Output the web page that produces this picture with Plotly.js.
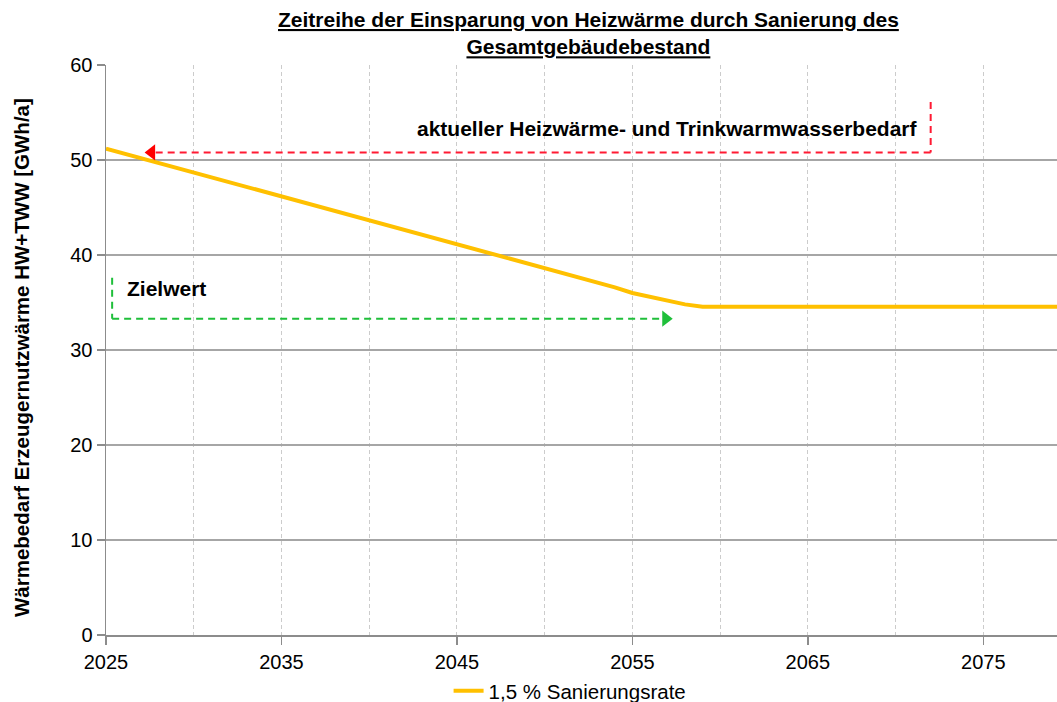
<!DOCTYPE html>
<html><head><meta charset="utf-8">
<script src="https://cdn.plot.ly/plotly-3.0.1.min.js"></script>
<style>body{margin:0;background:#fff}#c{width:1057px;height:702px}</style>
</head><body><div id="c"></div>
<script>
const years = [2025,2026,2027,2028,2029,2030,2031,2032,2033,2034,2035,2036,2037,2038,2039,2040,2041,2042,2043,2044,2045,2046,2047,2048,2049,2050,2051,2052,2053,2054,2055,2056,2057,2058,2059,2060,2061,2062,2063,2064,2065,2066,2067,2068,2069,2070,2071,2072,2073,2074,2075,2076,2077,2078,2079,2080];
const demand = [51.2,50.7,50.2,49.7,49.2,48.6,48.1,47.6,47.1,46.6,46.1,45.6,45.1,44.6,44.1,43.6,43.1,42.6,42.1,41.6,41.1,40.6,40.1,39.6,39.1,38.6,38.1,37.6,37.1,36.6,36.0,35.6,35.2,34.8,34.55,34.55,34.55,34.55,34.55,34.55,34.55,34.55,34.55,34.55,34.55,34.55,34.55,34.55,34.55,34.55,34.55,34.55,34.55,34.55,34.55,34.55];
const seriesName = '1,5 % Sanierungsrate';
const titleLines = ['Zeitreihe der Einsparung von Heizwärme durch Sanierung des','Gesamtgebäudebestand'];
const yTitle = 'Wärmebedarf Erzeugernutzwärme HW+TWW [GWh/a]';
// annotation: current demand (red) and target (green)
const currentLabel = 'aktueller Heizwärme- und Trinkwarmwasserbedarf';
const currentX = [2072.0, 2072.0, 2027.6];
const currentY = [56.1, 50.8, 50.8];
const targetLabel = 'Zielwert';
const targetX = [2025.35, 2025.35, 2056.9];
const targetY = [37.6, 33.3, 33.3];

const FONT = 'Liberation Sans, Arial, sans-serif';
const red = '#ff1a33', green = '#1fbf3a';

const traces = [
  {x: years, y: demand, type:'scatter', mode:'lines', name: seriesName,
   line:{color:'#ffc000', width:4}},
  {x:[currentX[2]], y:[currentY[2]], type:'scatter', mode:'markers', showlegend:false, hoverinfo:'skip',
   marker:{symbol:'triangle-left', size:14, color:'#ff0000'}},
  {x:[targetX[2]], y:[targetY[2]], type:'scatter', mode:'markers', showlegend:false, hoverinfo:'skip',
   marker:{symbol:'triangle-right', size:14, color:green}}
];

function seg(xs, ys, color){
  const s=[];
  for(let i=0;i<xs.length-1;i++){
    s.push({type:'line', xref:'x', yref:'y', x0:xs[i], y0:ys[i], x1:xs[i+1], y1:ys[i+1],
      line:{color:color, width:2, dash:'7px,5px'}});
  }
  return s;
}

const layout = {
  width:1057, height:702,
  margin:{l:106, r:0, t:65, b:67, autoexpand:false},
  paper_bgcolor:'#fff', plot_bgcolor:'#fff',
  font:{family:FONT, size:20, color:'#000'},
  xaxis:{range:[2025, 2079.2], tick0:2025, dtick:10, ticks:'outside', ticklen:8, tickcolor:'#8c8c8c', tickwidth:1.5,
    showline:true, linecolor:'#8c8c8c', linewidth:2, showgrid:true, gridcolor:'#cccccc', griddash:'4px,3px', gridwidth:1,
    minor:{tick0:2025, dtick:5, showgrid:true, gridcolor:'#cccccc', griddash:'4px,3px', gridwidth:1},
    zeroline:false, tickfont:{family:FONT, size:20}, fixedrange:true},
  yaxis:{range:[0,60], dtick:10, ticks:'outside', ticklen:8, tickcolor:'#8c8c8c', tickwidth:1.5,
    showline:true, linecolor:'#8c8c8c', linewidth:1.5, showgrid:true, gridcolor:'#a6a6a6', gridwidth:1.5,
    zeroline:false, tickfont:{family:FONT, size:20}},
  showlegend:true,
  legend:{orientation:'h', x:0.488, xanchor:'center', y:-0.098, yanchor:'middle', font:{family:FONT, size:20.5}, bgcolor:'rgba(0,0,0,0)'},
  shapes: seg(currentX, currentY, red).concat(seg(targetX, targetY, green)),
  annotations:[
    {xref:'paper', yref:'paper', x:0.507, y:1.103, xanchor:'center', yanchor:'top', showarrow:false, align:'center',
     text:'<b><span style="text-decoration:underline">'+titleLines[0]+'</span><br><span style="text-decoration:underline">'+titleLines[1]+'</span></b>',
     font:{family:FONT, size:21, color:'#000'}},
    {xref:'paper', yref:'paper', x:-0.0883, y:0.486, xanchor:'center', yanchor:'middle', showarrow:false, textangle:-90,
     text:'<b>'+yTitle+'</b>', font:{family:FONT, size:20.5, color:'#000'}},
    {xref:'x', yref:'y', x:2071.4, y:53.3, text:'<b>'+currentLabel+'</b>', showarrow:false, xanchor:'right', yanchor:'middle', font:{family:FONT, size:21}},
    {xref:'x', yref:'y', x:2026.1, y:36.5, text:'<b>'+targetLabel+'</b>', showarrow:false, xanchor:'left', yanchor:'middle', font:{family:FONT, size:21}}
  ]
};
Plotly.newPlot('c', traces, layout, {displayModeBar:false, staticPlot:true});
</script></body></html>
